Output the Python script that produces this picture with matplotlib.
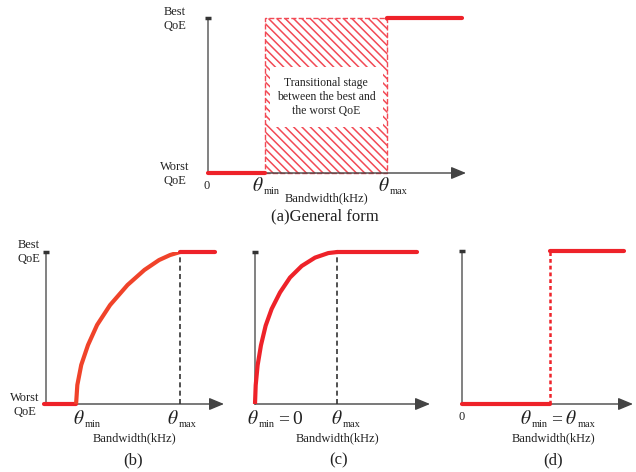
import matplotlib
matplotlib.use('Agg')
import matplotlib.pyplot as plt
from matplotlib.patches import Rectangle

plt.rcParams['font.family'] = ['Liberation Serif', 'DejaVu Serif']
plt.rcParams['mathtext.fontset'] = 'stix'
plt.rcParams['hatch.linewidth'] = 1.1

W, H = 636, 472
RED = '#ee2229'
TXT = '#222222'

# normalised positions (0 = y axis, 1 = arrow tip), QoE 0 = worst, 1 = best
a_theta = [0.221, 0.694]
a_end = 0.984

b_theta = [0.169, 0.753]
b_end = 0.949
b_curve_x = [0.169, 0.176, 0.198, 0.236, 0.287, 0.360, 0.458, 0.553, 0.635,
             0.697, 0.753]
b_curve_y = [0.0, 0.125, 0.257, 0.388, 0.520, 0.651, 0.783, 0.882, 0.947,
             0.980, 1.0]

c_theta_max = 0.471
c_end = 0.924
c_curve_x = [0.0, 0.004, 0.015, 0.034, 0.061, 0.095, 0.143, 0.200, 0.267,
             0.343, 0.419, 0.471]
c_curve_y = [0.0, 0.124, 0.255, 0.386, 0.516, 0.625, 0.734, 0.832, 0.908,
             0.963, 0.993, 1.0]

d_theta = 0.515
d_end = 0.947


def px(x, y):
    return x / W, 1 - y / H


def panel(fig, x0, x1, ybot, ytop):
    ax = fig.add_axes([x0 / W, 1 - ybot / H, (x1 - x0) / W, (ybot - ytop) / H])
    ax.set_xlim(0, 1)
    ax.set_ylim(0, 1)
    ax.axis('off')
    ax.plot([0, 0], [0, 1], color='#777777', lw=1.3, clip_on=False, zorder=2)
    ax.plot([0], [1], marker='_', ms=5, mew=2.5, color='#333333', clip_on=False, zorder=2)
    ax.annotate('', xy=(1, 0), xytext=(0, 0), xycoords='data',
                arrowprops=dict(arrowstyle='-|>,head_length=0.6,head_width=0.25',
                                color='#444444', lw=1.0, mutation_scale=15,
                                shrinkA=0, shrinkB=0), zorder=2)
    return ax


def red(ax, x, y):
    ax.plot(x, y, color=RED, lw=3, clip_on=False, solid_capstyle='round', zorder=4)


def label(fig, x, y, s, size=9, ha='center', **kw):
    fig.text(*px(x, y), s, fontsize=size, ha=ha, va='center', color=TXT, **kw)


def theta_label(fig, x, base, parts):
    # parts: ('T', sub) for theta with a subscript, or a plain string
    r = fig.canvas.get_renderer()
    for p in parts:
        if isinstance(p, tuple):
            t = fig.text(*px(x, base), r'$\theta$', fontsize=14, va='baseline', color=TXT)
            x = t.get_window_extent(r).x1 + 0.5
            t = fig.text(*px(x, base + 3), p[1], fontsize=7.5, va='baseline', color=TXT)
            x = t.get_window_extent(r).x1 + 3
        else:
            t = fig.text(*px(x, base), p, fontsize=14, va='baseline', color=TXT)
            x = t.get_window_extent(r).x1 + 3


fig = plt.figure(figsize=(W / 100, H / 100), dpi=100)

# (a) general form
ax = panel(fig, 208, 466, 173, 18)
ax.add_patch(Rectangle((a_theta[0], 0), a_theta[1] - a_theta[0], 1, fill=False,
                       hatch='\\\\\\\\', edgecolor='#f24a55', lw=1.0, ls='--',
                       clip_on=False, zorder=1))
ax.add_patch(Rectangle((0.240, 0.297), 0.438, 0.387, facecolor='white',
                       edgecolor='none', zorder=3))
red(ax, [0, a_theta[0]], [0, 0])
red(ax, [a_theta[1], a_end], [1, 1])
label(fig, 326, 97, 'Transitional stage\nbetween the best and\nthe worst QoE',
      size=8.5, linespacing=1.2)
label(fig, 175, 19, 'Best\nQoE', linespacing=1.25)
label(fig, 175, 174, 'Worst\nQoE', linespacing=1.25)
label(fig, 207, 186, '0')
theta_label(fig, 252, 191, [('T', 'min')])
theta_label(fig, 378, 191, [('T', 'max')])
label(fig, 326, 198, 'Bandwidth(kHz)')
label(fig, 325, 216, '(a)General form', size=12)

# (b)
ax = panel(fig, 46, 224, 404, 252)
red(ax, [-0.01, b_theta[0]], [0, 0])
ax.plot(b_curve_x, b_curve_y, color='#f0432a', lw=3, zorder=4, solid_capstyle='butt')
red(ax, [b_theta[1], b_end], [1, 1])
ax.plot([b_theta[1], b_theta[1]], [0, 1], color='#333333', lw=1.2,
        dashes=(3, 2), zorder=3)
label(fig, 29, 252, 'Best\nQoE', linespacing=1.25)
label(fig, 25, 405, 'Worst\nQoE', linespacing=1.25)
theta_label(fig, 73, 424, [('T', 'min')])
theta_label(fig, 167, 424, [('T', 'max')])
label(fig, 134, 438, 'Bandwidth(kHz)')
label(fig, 133, 460, '(b)', size=12)

# (c)
ax = panel(fig, 255, 430, 404, 252)
ax.plot(c_curve_x, c_curve_y, color=RED, lw=3, zorder=4, clip_on=False,
        solid_capstyle='butt')
red(ax, [c_theta_max, c_end], [1, 1])
ax.plot([c_theta_max, c_theta_max], [0, 1], color='#333333', lw=1.2,
        dashes=(3, 2), zorder=3)
theta_label(fig, 247, 424, [('T', 'min'), '=', '0'])
theta_label(fig, 331, 424, [('T', 'max')])
label(fig, 337, 438, 'Bandwidth(kHz)')
label(fig, 339, 460, '(c)', size=12)

# (d)
ax = panel(fig, 462, 633, 404, 251)
red(ax, [0, d_theta], [0, 0])
red(ax, [d_theta, d_end], [1, 1])
ax.plot([d_theta, d_theta], [0, 1], color=RED, lw=1.8, dashes=(1.5, 1.2), zorder=3)
label(fig, 462, 417, '0')
theta_label(fig, 520, 424, [('T', 'min'), '=', ('T', 'max')])
label(fig, 553, 438, 'Bandwidth(kHz)')
label(fig, 553, 460, '(d)', size=12)

fig.savefig('out.png', dpi=100)
